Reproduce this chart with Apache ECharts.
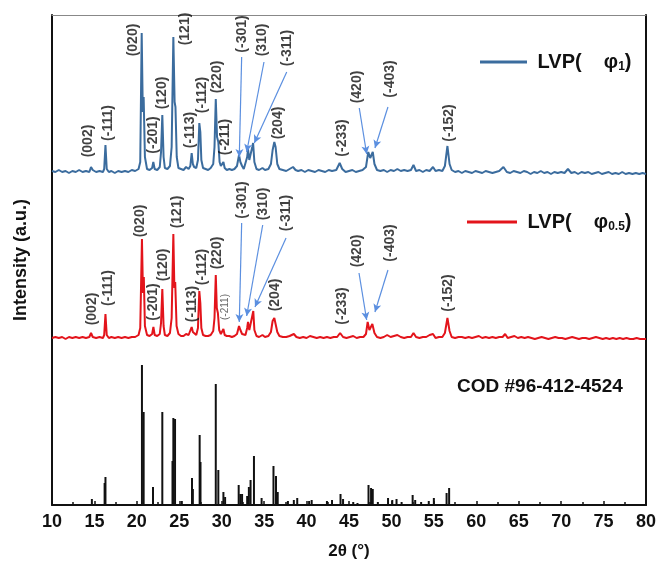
<!DOCTYPE html>
<html><head><meta charset="utf-8">
<script src="https://cdn.jsdelivr.net/npm/echarts@6/dist/echarts.min.js"></script>
<style>html,body{margin:0;padding:0;background:#fff}#c{width:659px;height:563px}</style>
</head><body><div id="c"></div>
<script>
// ---- data (2θ, intensity a.u.) ----
const xTicks = [10,15,20,25,30,35,40,45,50,55,60,65,70,75,80];
const blueName = 'LVP(φ1)';
const redName = 'LVP(φ0.5)';
const codName = 'COD #96-412-4524';
const blueOffset = 333;
const redOffset = 167;
const blueTrace = [[10,1],[10.4,0],[10.8,2],[11.2,0],[11.6,1],[12.0,-1],[12.4,1],[12.8,0],[13.2,2],[13.6,0],[14.0,1],[14.4,0],[14.6,5],[14.8,2],[15.2,0],[15.6,1],[16.0,0],
[16.15,3],[16.3,27],[16.45,3],[16.7,0],[17.0,1],[17.4,-1],[17.8,1],[18.2,0],[18.6,1],[19.0,0],[19.4,2],[19.8,1],[20.2,3],
[20.4,10],[20.57,139],[20.7,60],[20.8,75],[20.95,15],[21.2,3],[21.5,2],[21.8,4],[21.94,10],[22.1,3],[22.4,2],[22.7,5],[22.85,20],[23.0,57],[23.15,15],[23.3,4],[23.6,3],[23.9,6],[24.1,25],[24.3,135],[24.45,70],[24.55,65],[24.7,15],[24.9,4],[25.2,3],[25.5,2],[25.8,5],[26.1,3],[26.3,6],[26.46,19],[26.6,8],[26.75,5],[27.0,4],[27.2,12],[27.36,49],[27.48,40],[27.6,12],[27.8,4],[28.1,3],[28.4,2],[28.7,4],[29.0,8],[29.15,25],[29.3,73],[29.45,35],[29.6,30],[29.75,10],[29.9,6],[30.05,5],[30.2,10],[30.35,4],[30.6,2],[30.9,3],[31.2,2],[31.5,3],[31.8,6],[32.04,17],[32.2,10],[32.4,6],[32.6,3],[32.8,5],[33.0,15],[33.1,23],[33.25,12],[33.45,14],[33.6,25],[33.7,29],[33.85,10],[34.1,3],[34.4,2],[34.8,4],[35.1,2],[35.5,3],[35.8,8],[36.0,22],[36.2,30],[36.35,25],[36.55,8],[36.8,3],[37.2,2],[37.6,1],[38.0,3],[38.4,5],[38.7,2],[39.0,1],[39.4,2],[39.8,0],[40.2,2],[40.6,1],[41.0,0],[41.4,2],[41.8,1],[42.2,0],[42.6,2],[43.0,1],[43.5,2],[43.9,9],[44.2,3],[44.6,0],[45.0,1],[45.4,2],[45.8,0],[46.2,1],[46.6,2],[47.0,5],[47.27,20],[47.5,14],[47.8,20],[48.0,8],[48.3,2],[48.7,1],[49.1,2],[49.5,0],[49.9,2],[50.3,1],[50.7,3],[51.1,1],[51.5,2],[51.9,1],[52.3,2],[52.6,7],[52.9,1],[53.3,2],[53.7,0],[54.1,2],[54.5,1],[54.9,5],[55.2,1],[55.6,2],[56.0,1],[56.3,6],[56.6,26],[56.85,8],[57.1,2],[57.5,0],[57.9,1],[58.3,-1],[58.7,1],[59.1,0],[59.5,-1],[59.9,1],[60.3,0],[60.7,-1],[61.1,1],[61.5,0],[61.9,-1],[62.3,0],[62.7,1],[63.2,5],[63.6,0],[64.0,-1],[64.4,1],[64.8,0],[65.2,-1],[65.6,1],[66.0,0],[66.4,-2],[66.8,0],[67.2,-1],[67.6,1],[68.0,-1],[68.4,0],[68.8,-2],[69.2,0],[69.6,-1],[70.0,0],[70.4,-1],[70.8,3],[71.2,-1],[71.6,0],[72.0,-2],[72.4,0],[72.8,-1],[73.2,0],[73.6,-2],[74.0,-1],[74.4,0],[74.8,-2],[75.2,-1],[75.6,0],[76.0,-2],[76.4,-1],[76.8,-2],[77.2,0],[77.6,-2],[78.0,-1],[78.4,-2],[78.8,-1],[79.2,-2],[79.6,-1],[80.0,-2]];
const redTrace = [[10,0],[10.4,1],[10.8,0],[11.2,1],[11.6,-1],[12.0,1],[12.4,0],[12.8,1],[13.2,0],[13.6,1],[14.0,0],[14.4,1],[14.6,5],[14.8,1],[15.2,0],[15.6,1],[16.0,0],[16.15,3],[16.3,24],[16.45,3],[16.7,0],[17.0,1],[17.4,0],[17.8,1],[18.2,0],[18.6,1],[19.0,0],[19.4,1],[19.8,1],[20.2,3],[20.4,10],[20.6,99],[20.72,45],[20.82,61],[20.95,12],[21.2,3],[21.5,2],[21.8,4],[21.95,11],[22.1,3],[22.4,2],[22.7,4],[22.85,15],[23.0,49],[23.15,12],[23.3,3],[23.6,2],[23.9,5],[24.1,20],[24.3,104],[24.42,50],[24.52,56],[24.68,12],[24.9,4],[25.2,2],[25.5,2],[25.8,4],[26.1,3],[26.3,5],[26.46,11],[26.6,6],[26.75,4],[27.0,3],[27.2,10],[27.36,47],[27.48,35],[27.6,10],[27.8,3],[28.1,2],[28.4,2],[28.7,3],[29.0,7],[29.15,20],[29.3,63],[29.42,30],[29.55,25],[29.7,8],[29.9,4],[30.05,3],[30.2,9],[30.35,3],[30.6,2],[30.9,2],[31.2,1],[31.5,2],[31.8,4],[32.04,12],[32.2,8],[32.4,4],[32.6,2],[32.8,3],[33.0,10],[33.1,16],[33.25,8],[33.45,10],[33.6,22],[33.72,27],[33.85,8],[34.1,2],[34.4,1],[34.8,3],[35.1,1],[35.5,2],[35.8,6],[36.0,17],[36.2,20],[36.35,18],[36.55,6],[36.8,2],[37.2,1],[37.6,1],[38.0,2],[38.5,4],[38.8,1],[39.2,0],[39.6,1],[40.0,0],[40.4,2],[40.8,1],[41.2,0],[41.6,1],[42.0,0],[42.4,1],[42.8,0],[43.2,1],[43.6,1],[43.95,5],[44.3,1],[44.7,0],[45.1,1],[45.5,2],[45.9,0],[46.3,1],[46.7,1],[47.0,4],[47.2,16],[47.4,8],[47.55,10],[47.75,14],[48.0,5],[48.3,1],[48.7,0],[49.1,1],[49.5,3],[49.9,1],[50.3,2],[50.7,3],[51.1,1],[51.5,0],[51.9,1],[52.3,1],[52.6,5],[52.9,1],[53.3,0],[53.7,1],[54.1,1],[54.5,3],[54.9,4],[55.2,0],[55.6,1],[56.0,1],[56.3,5],[56.6,20],[56.85,7],[57.1,1],[57.5,0],[57.9,1],[58.3,1],[58.7,0],[59.1,1],[59.5,0],[59.9,1],[60.3,2],[60.7,0],[61.1,1],[61.5,0],[61.9,1],[62.3,0],[62.7,1],[63.1,1],[63.4,4],[63.7,0],[64.1,1],[64.5,2],[64.9,0],[65.3,1],[65.7,0],[66.1,1],[66.5,0],[66.9,-1],[67.3,0],[67.7,1],[68.1,0],[68.5,-1],[68.9,0],[69.3,1],[69.7,0],[70.1,0],[70.5,-1],[70.9,0],[71.3,1],[71.7,0],[72.1,-1],[72.5,0],[72.9,0],[73.3,-1],[73.7,0],[74.1,1],[74.5,0],[74.9,-1],[75.3,0],[75.7,-1],[76.1,0],[76.5,-1],[76.9,0],[77.3,-1],[77.7,0],[78.1,-1],[78.5,-1],[78.9,0],[79.3,-1],[79.7,-1],[80.0,-1]];
const codSticks = [[14.7,6],[16.2,22],[16.3,28],[20.6,140],[20.8,93],[21.9,18],[23.0,93],[24.2,44],[24.3,87],[24.5,86],[25.3,4],[26.5,27],[26.6,16],[27.4,70],[27.5,43],[29.3,121],[29.6,35],[30.2,13],[30.4,8],[32.0,20],[32.2,11],[32.4,11],[33.0,9],[33.2,18],[33.4,25],[33.8,49],[34.7,7],[36.1,39],[36.4,29],[36.6,13],[37.8,4],[38.5,5],[38.9,7],[40.3,4],[40.6,5],[42.4,4],[43.0,5],[44.0,11],[44.3,6],[45.5,3],[46.0,2],[47.3,20],[47.6,17],[47.8,16],[48.4,3],[49.6,7],[50.1,5],[50.6,6],[51.2,3],[52.5,10],[52.8,5],[53.5,3],[54.4,4],[55.0,7],[56.5,12],[56.8,17]];
// peak labels: [text, 2θ, intensity at label centre]
const blueLabels = [['(002)',14.28,364],['(-111)',16.60,382],['(020)',19.55,465],['(-201)',21.90,370],['(120)',22.96,412],['(121)',25.67,476],['(-113)',26.26,375],['(-112)',27.68,410],['(220)',29.44,428],['(-211)',30.39,368],['(-301)',32.39,471],['(310)',34.75,465],['(-311)',37.69,457],['(204)',36.63,382],['(-233)',44.17,367],['(420)',45.94,418],['(-403)',49.83,426],['(-152)',56.78,382]];
const redLabels = [['(002)',14.71,196],['(-111)',16.60,217],['(020)',20.37,284],['(-201)',21.90,203],['(120)',23.08,240],['(121)',24.73,293],['(-113)',26.50,201],['(-112)',27.68,238],['(220)',29.44,252],['(-301)',32.39,305],['(310)',34.86,301],['(-311)',37.57,292],['(204)',36.28,210],['(-233)',44.17,199],['(420)',45.94,254],['(-403)',49.83,262],['(-152)',56.67,212]];
const redSmallLabels = [['(-211)',30.39,198]];
// arrows: [from2θ, fromI, to2θ, toI]
const arrows = [[32.35,448,32.07,348],[34.98,443,32.94,353],[37.66,433,33.84,362],[46.21,397,47.08,351],[49.59,398,48.06,357],
[32.35,282,32.07,183],[34.83,280,32.94,189],[37.58,267,33.92,198],[46.18,232,47.08,185],[49.59,235,48.06,193]];

// ---- chart ----
const FONT = 'Liberation Sans, Arial, sans-serif';
const BLUE = '#3b6c9e', RED = '#e3141b', ARROW = '#5b8fe0';
const chart = echarts.init(document.getElementById('c'));
const lblSeries = (arr, size, weight, color) => ({
  type: 'scatter', symbolSize: 0, silent: true, z: 5,
  data: arr.map(d => ({name: d[0], value: [d[1], d[2]]})),
  label: {show: true, position: 'inside', rotate: 90, formatter: '{b}', fontSize: size, fontWeight: weight, color: color, fontFamily: FONT}
});
const legendRich = {
  a: {fontSize: 20, fontWeight: 'bold', fontFamily: FONT, color: '#111'},
  s: {fontSize: 12, fontWeight: 'bold', fontFamily: FONT, color: '#111', verticalAlign: 'bottom', padding: [10,0,0,0]}
};
chart.setOption({
  animation: false,
  grid: {left: 52, right: 13, top: 15, bottom: 58, containLabel: false, outerBoundsMode: 'none'},
  title: {text: codName, left: 457, top: 377, padding: 0,
    textStyle: {fontSize: 19, fontWeight: 'bold', fontFamily: FONT, color: '#111'}},
  legend: [
    {data: [blueName], left: 480, top: 52, padding: 0, icon: 'rect', itemWidth: 47, itemHeight: 3,
     formatter: '{a| LVP(    φ}{s|1}{a|)}', textStyle: {rich: legendRich}},
    {data: [redName], left: 467, top: 212, padding: 0, icon: 'rect', itemWidth: 50, itemHeight: 3,
     formatter: '{a| LVP(    φ}{s|0.5}{a|)}', textStyle: {rich: legendRich}}
  ],
  xAxis: [{
    type: 'value', min: 10, max: 80, interval: 5, position: 'bottom',
    name: '2θ (°)', nameLocation: 'middle', nameGap: 38,
    nameTextStyle: {fontSize: 17, fontWeight: 'bold', fontFamily: FONT, color: '#111'},
    axisLine: {show: true, lineStyle: {color: '#111', width: 2}},
    axisTick: {show: true, inside: true, length: 4, lineStyle: {color: '#111', width: 1.5}},
    minorTick: {show: true, splitNumber: 2, length: 3, lineStyle: {color: '#111', width: 1.5}},
    axisLabel: {fontSize: 18, fontWeight: 'bold', fontFamily: FONT, color: '#111', margin: 8,
      formatter: v => xTicks.indexOf(v) >= 0 ? String(v) : ''},
    splitLine: {show: false}
  }, {
    type: 'value', min: 10, max: 80, position: 'top',
    axisLine: {show: true, onZero: false, lineStyle: {color: '#888', width: 1}},
    axisTick: {show: false}, axisLabel: {show: false}, splitLine: {show: false}
  }],
  yAxis: [{
    type: 'value', min: 0, max: 490, position: 'left',
    name: 'Intensity (a.u.)', nameLocation: 'middle', nameGap: 22,
    nameTextStyle: {fontSize: 18, fontWeight: 'bold', fontFamily: FONT, color: '#111'},
    axisLine: {show: true, lineStyle: {color: '#111', width: 2}},
    axisTick: {show: false}, axisLabel: {show: false}, splitLine: {show: false}
  }, {
    type: 'value', min: 0, max: 490, position: 'right',
    axisLine: {show: true, onZero: false, lineStyle: {color: '#111', width: 2}},
    axisTick: {show: false}, axisLabel: {show: false}, splitLine: {show: false}
  }],
  series: [
    {name: blueName, type: 'line', showSymbol: false, color: BLUE, lineStyle: {color: BLUE, width: 2}, z: 3,
     data: blueTrace.map(p => [p[0], p[1] + blueOffset])},
    {name: redName, type: 'line', showSymbol: false, color: RED, lineStyle: {color: RED, width: 2}, z: 3,
     data: redTrace.map(p => [p[0], p[1] + redOffset])},
    {name: codName, type: 'bar', barWidth: 2, color: '#111', itemStyle: {color: '#111'}, z: 2,
     data: codSticks},
    lblSeries(blueLabels, 14, 'bold', '#111'),
    lblSeries(redLabels, 14, 'bold', '#111'),
    lblSeries(redSmallLabels, 10, 'normal', '#444'),
    {type: 'line', data: [], silent: true,
     markLine: {silent: true, symbol: ['none', 'arrow'], symbolSize: [6, 8], animation: false,
       lineStyle: {color: ARROW, width: 1.2, type: 'solid'}, label: {show: false},
       data: arrows.map(a => [{coord: [a[0], a[1]]}, {coord: [a[2], a[3]]}])}}
  ]
});
</script></body></html>
